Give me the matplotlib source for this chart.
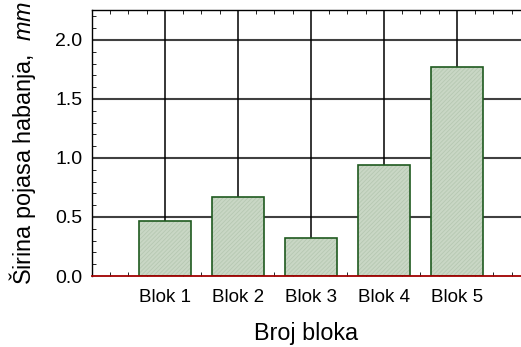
import numpy as np
import matplotlib
matplotlib.use("Agg")
import matplotlib.pyplot as plt
from matplotlib.ticker import MultipleLocator, FormatStrFormatter

plt.rcParams["font.family"] = ["Liberation Sans", "DejaVu Sans"]
plt.rcParams["mathtext.fontset"] = "custom"
plt.rcParams["mathtext.it"] = "Liberation Sans:italic"
plt.rcParams["mathtext.rm"] = "Liberation Sans"
plt.rcParams["hatch.linewidth"] = 0.6

blocks = ["Blok 1", "Blok 2", "Blok 3", "Blok 4", "Blok 5"]
widths = [0.466, 0.672, 0.325, 0.943, 1.774]   # mm

fig = plt.figure(figsize=(5.21, 3.47), dpi=100)
ax = fig.add_axes([0.1766, 0.2046, 0.8234, 0.7666])

pos = np.arange(1, len(blocks) + 1)

# grid first so the bars sit on top
for yv in [0.5, 1.0, 1.5, 2.0]:
    ax.axhline(yv, color="#404040", lw=1.5, zorder=1)
for xv in pos:
    ax.axvline(xv, color="black", lw=1.1, zorder=1)

# light textured fill, then the dark green outline
ax.bar(pos, widths, width=0.71, color="#c9d7c5", edgecolor="#b6c8b2",
       lw=0, hatch="////////", zorder=2)
ax.bar(pos, widths, width=0.71, color="none", edgecolor="#1f5a1f",
       lw=1.2, zorder=3)
ax.axhline(0, color="#a00000", lw=1.3, zorder=4, clip_on=False)

ax.set_xlim(0, 5.88)
ax.set_ylim(0, 2.254)
ax.set_xticks(pos)
ax.set_xticklabels(blocks)
ax.xaxis.set_minor_locator(MultipleLocator(0.25))
ax.yaxis.set_major_locator(MultipleLocator(0.5))
ax.yaxis.set_minor_locator(MultipleLocator(0.1))
ax.yaxis.set_major_formatter(FormatStrFormatter("%.1f"))

ax.tick_params(axis="y", which="both", direction="in", labelsize=14, pad=7,
               right=False)
ax.tick_params(axis="y", which="major", length=0)
ax.tick_params(axis="y", which="minor", length=3)
ax.tick_params(axis="x", which="both", direction="in", top=True,
               labelsize=13.5, pad=9)
ax.tick_params(axis="x", which="major", length=0)
ax.tick_params(axis="x", which="minor", length=3)

ax.spines["right"].set_visible(False)
ax.spines["bottom"].set_visible(False)
ax.spines["left"].set_linewidth(1.0)
ax.spines["top"].set_linewidth(1.0)

ax.set_xlabel("Broj bloka", fontsize=16.8, labelpad=12)
ax.set_ylabel(r"Širina pojasa habanja,  $\it{mm}$", fontsize=16.8, labelpad=12)

fig.savefig("out.png", dpi=100)
